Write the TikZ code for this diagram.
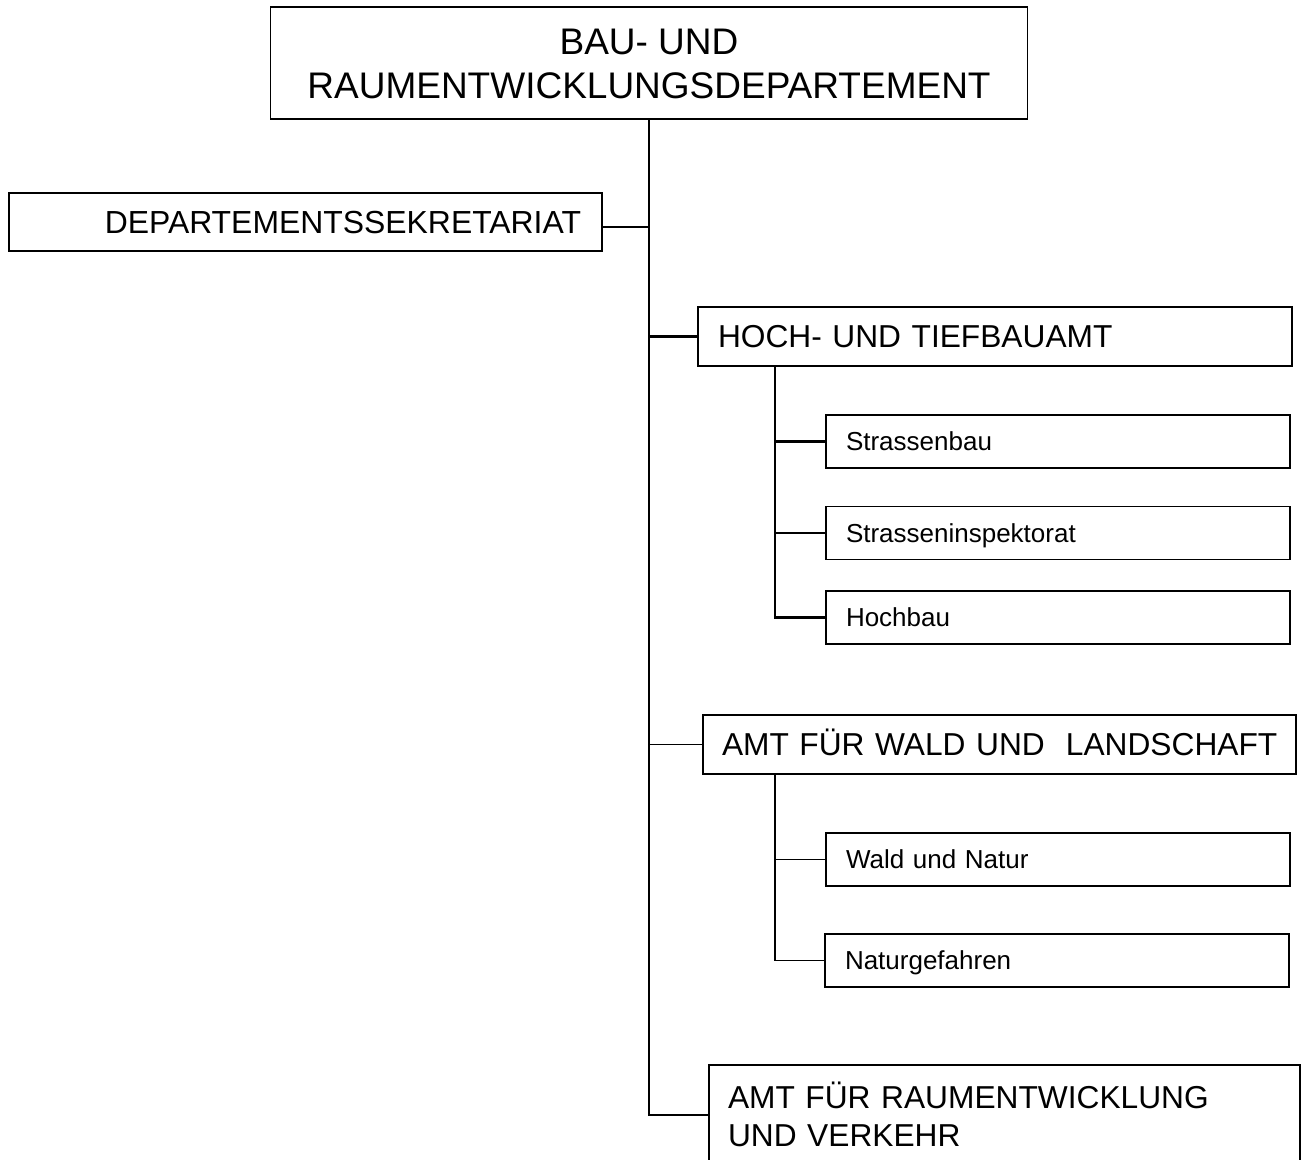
\documentclass[tikz,border=0pt]{standalone}
\usepackage{fontspec}
\setmainfont{Liberation Sans}
\begin{document}
\begin{tikzpicture}[x=1pt,y=-1pt,
  box/.style={draw=black, line width=1.8pt, rectangle, inner ysep=0pt},
  lvl1/.style={box, font=\fontsize{31.7}{38}\selectfont, align=left, inner xsep=19pt, minimum height=59pt, text height=22.7pt, text depth=0pt},
  lvl2/.style={box, font=\fontsize{26}{30}\selectfont, align=left, inner xsep=20pt, text width=424pt, minimum height=53pt, text height=18.6pt, text depth=0pt},
  thickline/.style={line width=2.6pt},
  thinline/.style={line width=1.5pt}]
\useasboundingbox (0,0) rectangle (1302,1160);
\clip (0,0) rectangle (1302,1160);

\node[box, font=\fontsize{37}{44}\selectfont, align=center, minimum width=757pt, minimum height=112pt, text height=70.5pt, text depth=0pt] (top) at (649,63) {BAU- UND\\RAUMENTWICKLUNGSDEPARTEMENT};

\node[box, font=\fontsize{31.9}{36}\selectfont, align=right, text width=551pt, inner xsep=21pt, minimum height=58pt, text height=22.8pt, text depth=0pt] (sek) at (305.5,222) {DEPARTEMENTSSEKRETARIAT};

\node[lvl1, text width=554pt, inner xsep=20pt] (hoch) at (995,336.5) {HOCH- UND TIEFBAUAMT};
\node[lvl2] (strb) at (1058,441.5) {Strassenbau};
\node[lvl2] (insp) at (1058,533) {Strasseninspektorat};
\node[lvl2] (hochbau) at (1058,617.5) {Hochbau};

\node[lvl1, text width=555pt] (wald) at (999.5,744.5) {\mbox{AMT FÜR WALD UND\ \ LANDSCHAFT}};
\node[lvl2] (wn) at (1058,859.5) {Wald und Natur};
\node[lvl2] (natg) at (1057,960.5) {Naturgefahren};

\node[lvl1, text width=553pt, minimum height=100pt, text depth=35.7pt] (raum) at (1004.5,1115) {AMT FÜR RAUMENTWICKLUNG\\UND VERKEHR};

% connectors
\draw[thinline] (top.south) |- (raum.west);
\coordinate (sj) at ([yshift=-5pt]sek.east);
\draw[line width=1.8pt] (sj) -- (sj -| top.south);
\draw[thickline] (hoch.west) -- (hoch.west -| top.south);
\draw[thinline] (wald.west) -- (wald.west -| top.south);

\coordinate (hv) at ([xshift=78pt]hoch.south west);
\draw[thickline] (hv) |- (hochbau.west);
\draw[thickline] (strb.west) -- (strb.west -| hv);
\draw[thickline] (insp.west) -- (insp.west -| hv);

\coordinate (wv) at ([xshift=73pt]wald.south west);
\draw[thinline] (wv) |- (natg.west);
\draw[thinline] (wn.west) -- (wn.west -| wv);
\end{tikzpicture}
\end{document}
